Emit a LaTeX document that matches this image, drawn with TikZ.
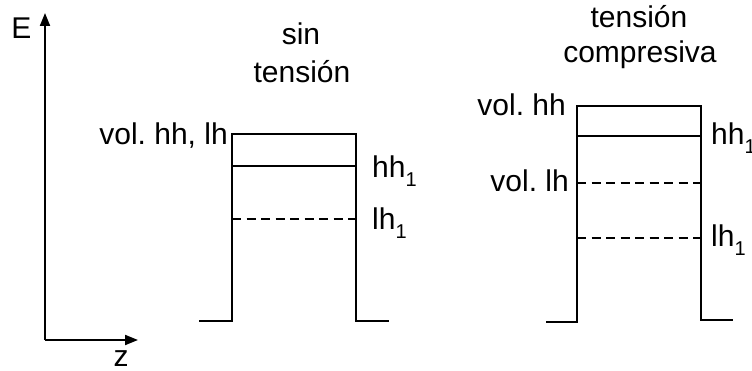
\documentclass[tikz,border=0pt]{standalone}
\usepackage{fontspec}
\setmainfont{Liberation Sans}
\usetikzlibrary{arrows.meta}
\newcommand\subone{\raisebox{-9pt}{\fontsize{20}{20}\selectfont 1}}
\frenchspacing
\begin{document}
\begin{tikzpicture}[x=1pt,y=-1pt,
  lbl/.style={inner sep=0pt,font=\fontsize{30}{30}\selectfont},
  wall/.style={line width=2.3pt,line join=miter},
  lvl/.style={line width=2.3pt},
  dlvl/.style={line width=2.3pt,dash pattern=on 9pt off 5.5pt},
  axis/.style={line width=2pt,-{Triangle[length=13pt,width=10pt]}}]
\path[use as bounding box] (0,0) rectangle (752,371);
% axes
\coordinate (O) at (45,340);
\coordinate (Etop) at (45,13);
\coordinate (Zend) at (138,340);
\draw[axis] (O) -- (Etop);
\draw[axis] (O) -- (Zend);
\node[lbl,anchor=base] (E) at (21.5,39) {E};
\node[lbl,anchor=base] (z) at (121,366) {z};
% left well (sin tension)
\coordinate (La) at (199,321);
\coordinate (Lb) at (232,321);
\coordinate (Lc) at (232,134);
\coordinate (Ld) at (356,134);
\coordinate (Le) at (356,321);
\coordinate (Lf) at (389,321);
\draw[wall] (La) -- (Lb) -- (Lc) -- (Ld) -- (Le) -- (Lf);
\coordinate (Lh1a) at (232,166);
\coordinate (Lh1b) at (356,166);
\draw[lvl] (Lh1a) -- (Lh1b);
\coordinate (Ll1a) at (232,219);
\coordinate (Ll1b) at (356,219);
\draw[dlvl] (Ll1a) -- (Ll1b);
\node[lbl,anchor=base east] (Lvol) at (228,145) {vol. hh, lh};
\node[lbl,anchor=base west] (Lhh) at (372,178) {hh\subone};
\node[lbl,anchor=base west] (Llh) at (372,230) {lh\subone};
\node[lbl,anchor=base] (Lt1) at (301,45) {sin};
\node[lbl,anchor=base] (Lt2) at (302,83) {tensión};
% right well (tension compresiva)
\coordinate (Ra) at (546,322);
\coordinate (Rb) at (577,322);
\coordinate (Rc) at (577,106);
\coordinate (Rd) at (701,106);
\coordinate (Re) at (701,320);
\coordinate (Rf) at (733,320);
\draw[wall] (Ra) -- (Rb) -- (Rc) -- (Rd) -- (Re) -- (Rf);
\coordinate (Rh1a) at (577,136);
\coordinate (Rh1b) at (701,136);
\draw[lvl] (Rh1a) -- (Rh1b);
\coordinate (Rvla) at (577,183);
\coordinate (Rvlb) at (701,183);
\draw[dlvl] (Rvla) -- (Rvlb);
\coordinate (Rl1a) at (577,238);
\coordinate (Rl1b) at (701,238);
\draw[dlvl] (Rl1a) -- (Rl1b);
\node[lbl,anchor=base east] (Rvhh) at (566,116) {vol. hh};
\node[lbl,anchor=base east] (Rvlh) at (569,192) {vol. lh};
\node[lbl,anchor=base west] (Rhh) at (711,145) {hh\subone};
\node[lbl,anchor=base west] (Rlh) at (711,247) {lh\subone};
\node[lbl,anchor=base] (Rt1) at (639,28) {tensión};
\node[lbl,anchor=base] (Rt2) at (640,63) {compresiva};
\end{tikzpicture}
\end{document}
